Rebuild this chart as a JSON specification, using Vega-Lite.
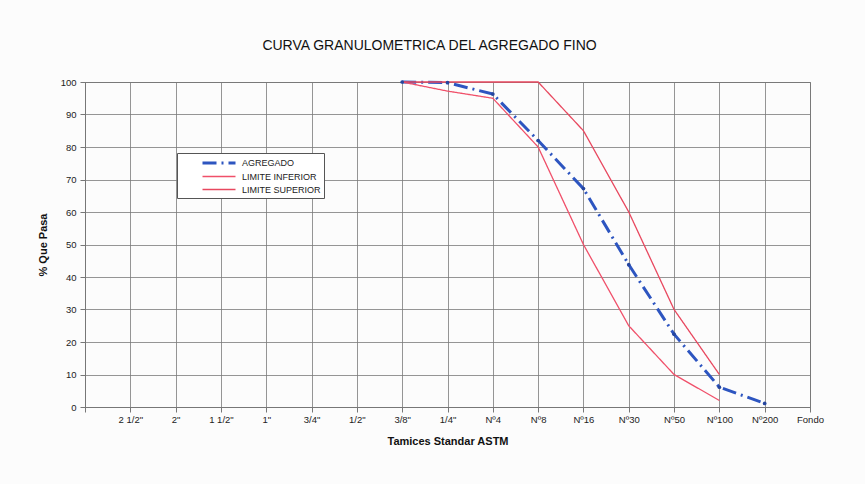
{
  "$schema": "https://vega.github.io/schema/vega-lite/v6.json",
  "autosize": "none",
  "width": 725,
  "height": 325,
  "padding": {"left": 85, "top": 82, "right": 55, "bottom": 77},
  "background": "#fcfcfc",
  "title": {
    "text": "CURVA GRANULOMETRICA DEL AGREGADO FINO",
    "font": "Liberation Sans Narrow, Liberation Sans",
    "fontSize": 14,
    "fontWeight": "normal",
    "color": "#111111",
    "anchor": "middle",
    "dx": -18,
    "offset": 23
  },
  "config": {
    "view": {"stroke": "#777777", "strokeWidth": 1},
    "axis": {
      "labelFont": "Liberation Sans",
      "labelFontSize": 9.5,
      "labelColor": "#222222",
      "titleFont": "Liberation Sans",
      "titleFontSize": 11,
      "titleFontWeight": "bold",
      "titleColor": "#111111",
      "gridColor": "#7a7a7a",
      "gridOpacity": 1,
      "gridWidth": 0.8,
      "domainColor": "#777777",
      "tickColor": "#777777",
      "tickSize": 5
    }
  },
  "data": {
    "values": [
      {"tamiz": "3/8\"", "serie": "AGREGADO", "pasa": 100},
      {"tamiz": "1/4\"", "serie": "AGREGADO", "pasa": 99.8},
      {"tamiz": "Nº4", "serie": "AGREGADO", "pasa": 96.3},
      {"tamiz": "Nº8", "serie": "AGREGADO", "pasa": 82},
      {"tamiz": "Nº16", "serie": "AGREGADO", "pasa": 67.2},
      {"tamiz": "Nº30", "serie": "AGREGADO", "pasa": 43.8},
      {"tamiz": "Nº50", "serie": "AGREGADO", "pasa": 22.4},
      {"tamiz": "Nº100", "serie": "AGREGADO", "pasa": 6.1},
      {"tamiz": "Nº200", "serie": "AGREGADO", "pasa": 1.1},
      {"tamiz": "3/8\"", "serie": "LIMITE INFERIOR", "pasa": 100},
      {"tamiz": "1/4\"", "serie": "LIMITE INFERIOR", "pasa": 97.2},
      {"tamiz": "Nº4", "serie": "LIMITE INFERIOR", "pasa": 95},
      {"tamiz": "Nº8", "serie": "LIMITE INFERIOR", "pasa": 80},
      {"tamiz": "Nº16", "serie": "LIMITE INFERIOR", "pasa": 50},
      {"tamiz": "Nº30", "serie": "LIMITE INFERIOR", "pasa": 25},
      {"tamiz": "Nº50", "serie": "LIMITE INFERIOR", "pasa": 10},
      {"tamiz": "Nº100", "serie": "LIMITE INFERIOR", "pasa": 2},
      {"tamiz": "3/8\"", "serie": "LIMITE SUPERIOR", "pasa": 100},
      {"tamiz": "1/4\"", "serie": "LIMITE SUPERIOR", "pasa": 100},
      {"tamiz": "Nº4", "serie": "LIMITE SUPERIOR", "pasa": 100},
      {"tamiz": "Nº8", "serie": "LIMITE SUPERIOR", "pasa": 100},
      {"tamiz": "Nº16", "serie": "LIMITE SUPERIOR", "pasa": 85},
      {"tamiz": "Nº30", "serie": "LIMITE SUPERIOR", "pasa": 60},
      {"tamiz": "Nº50", "serie": "LIMITE SUPERIOR", "pasa": 30},
      {"tamiz": "Nº100", "serie": "LIMITE SUPERIOR", "pasa": 10}
    ]
  },
  "encoding": {
    "x": {
      "field": "tamiz",
      "type": "ordinal",
      "scale": {
        "type": "point",
        "padding": 0,
        "domain": [" ", "2 1/2\"", "2\"", "1 1/2\"", "1\"", "3/4\"", "1/2\"", "3/8\"", "1/4\"", "Nº4", "Nº8", "Nº16", "Nº30", "Nº50", "Nº100", "Nº200", "Fondo"]
      },
      "axis": {
        "title": "Tamices Standar ASTM",
        "labelAngle": 0,
        "labelPadding": 2,
        "titlePadding": 12,
        "grid": true
      }
    },
    "y": {
      "field": "pasa",
      "type": "quantitative",
      "scale": {"domain": [0, 100], "nice": false},
      "axis": {
        "title": "% Que Pasa",
        "values": [0, 10, 20, 30, 40, 50, 60, 70, 80, 90, 100],
        "labelPadding": 4,
        "titlePadding": 12,
        "grid": true
      }
    }
  },
  "layer": [
    {
      "mark": {"type": "line", "strokeCap": "butt"},
      "encoding": {
        "order": {"value": null},
        "color": {
          "field": "serie",
          "type": "nominal",
          "scale": {
            "domain": ["AGREGADO", "LIMITE INFERIOR", "LIMITE SUPERIOR"],
            "range": ["#2d55c0", "#f0506a", "#e8485f"]
          },
          "legend": {
            "title": null,
            "orient": "none",
            "legendX": 92,
            "legendY": 71,
            "direction": "vertical",
            "fillColor": "#ffffff",
            "strokeColor": "#555555",
            "padding": 3,
            "symbolType": "M-3,0H3",
            "symbolSize": 121,
            "symbolOffset": 32,
            "labelFont": "Liberation Sans",
            "labelFontSize": 9,
            "labelColor": "#222222",
            "labelOffset": 16,
            "labelExpr": "datum.label + '          '",
            "rowPadding": 1,
            "labelLimit": 250
          }
        },
        "strokeDash": {
          "field": "serie",
          "type": "nominal",
          "scale": {
            "domain": ["AGREGADO", "LIMITE INFERIOR", "LIMITE SUPERIOR"],
            "range": [[14, 5, 2, 5], [1, 0], [1, 0]]
          }
        },
        "strokeWidth": {
          "field": "serie",
          "type": "nominal",
          "scale": {
            "type": "ordinal",
            "domain": ["AGREGADO", "LIMITE INFERIOR", "LIMITE SUPERIOR"],
            "range": [3, 1.3, 1.3]
          }
        }
      }
    },
    {
      "transform": [{"filter": "datum.serie === 'AGREGADO'"}],
      "mark": {"type": "point", "filled": true, "color": "#24459e", "size": 14, "opacity": 1},
      "encoding": {}
    }
  ]
}
